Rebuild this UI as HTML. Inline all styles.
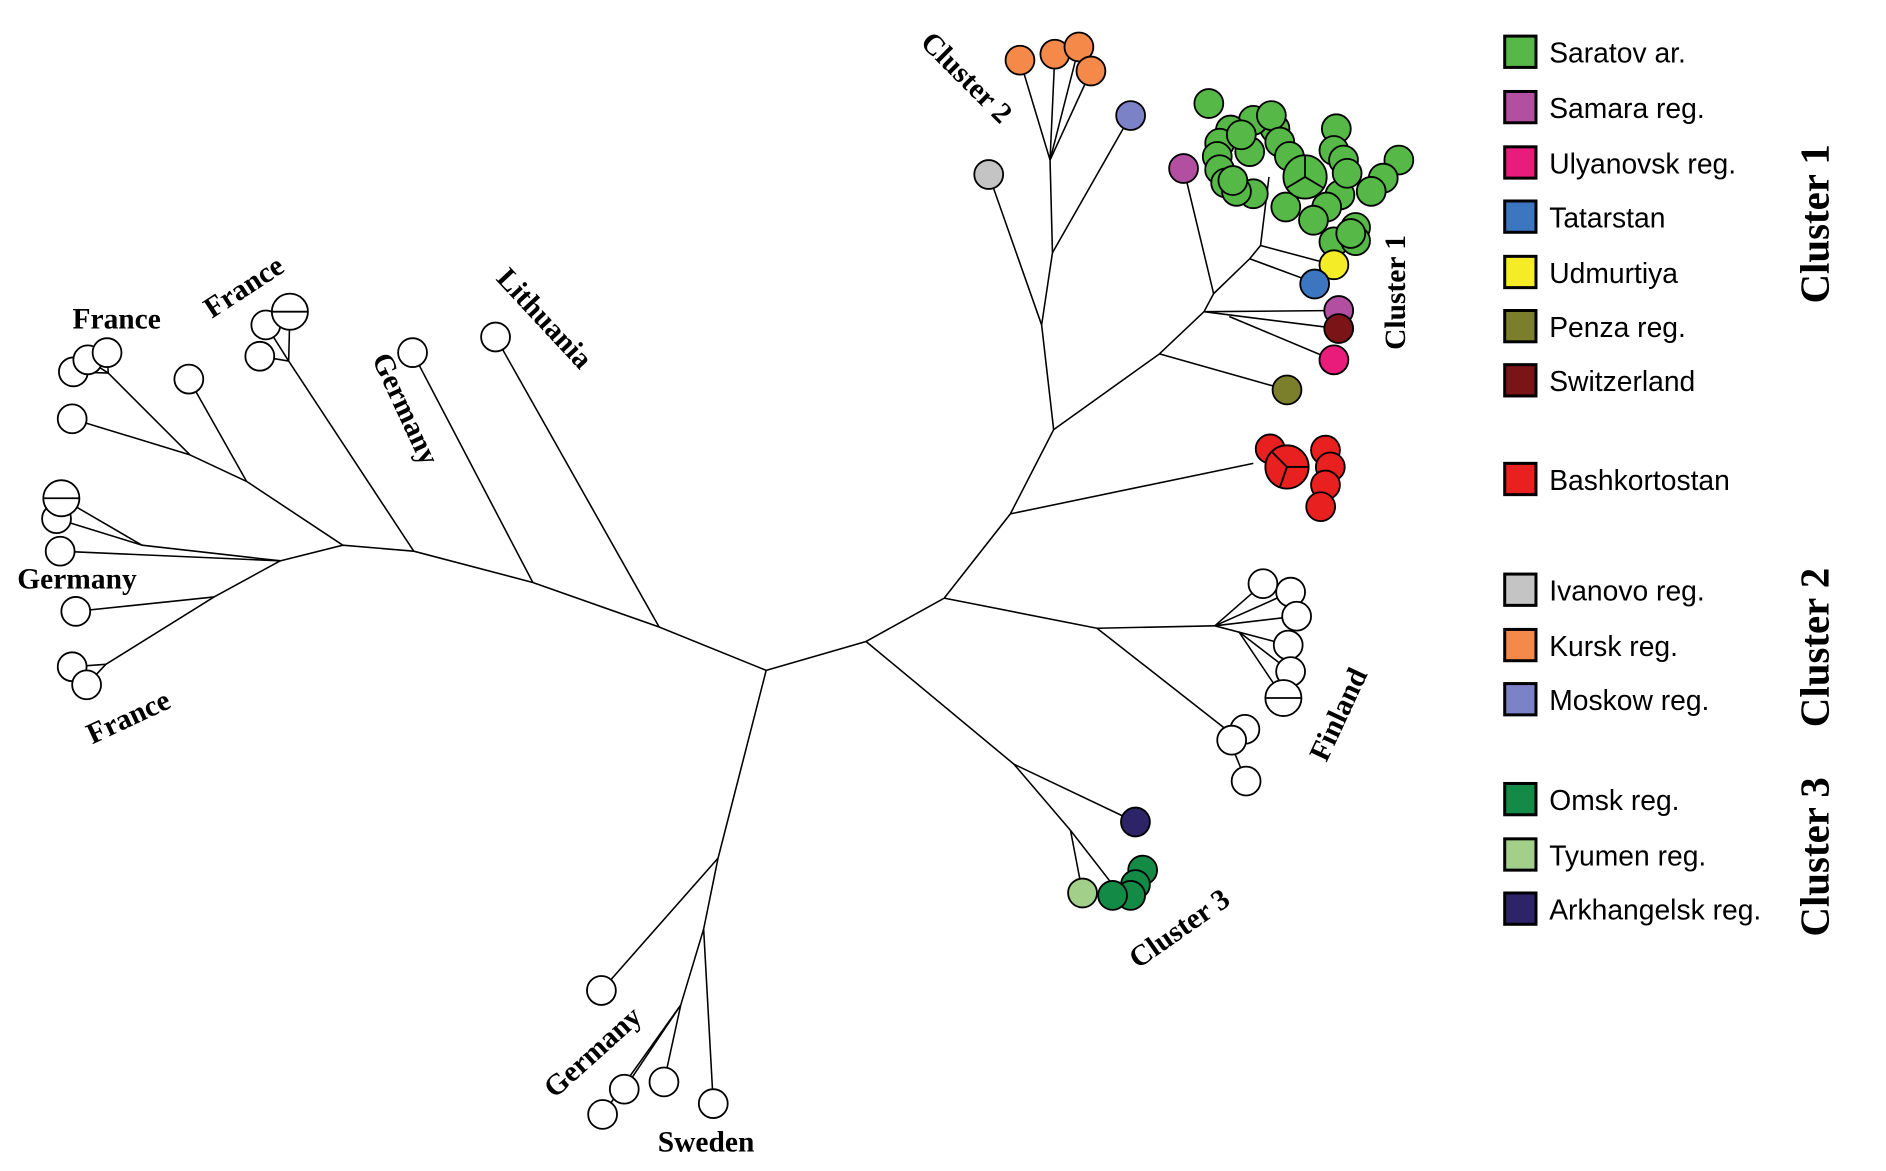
<!DOCTYPE html>
<html><head><meta charset="utf-8"><style>html,body{margin:0;padding:0;background:#fff}svg{display:block}</style></head>
<body>
<svg width="1886" height="1171" viewBox="0 0 1568 973" preserveAspectRatio="none" xmlns="http://www.w3.org/2000/svg">
<g stroke="#000" stroke-width="1.3" fill="none">
<polyline points="637,557 548,521 443,484 344,458 285,453 233,466"/>
<line x1="548" y1="521" x2="412" y2="280"/>
<line x1="443" y1="484" x2="343" y2="293"/>
<line x1="285" y1="453" x2="205" y2="400"/>
<line x1="344" y1="458" x2="240" y2="300"/>
<line x1="240" y1="300" x2="216" y2="296"/><line x1="240" y1="300" x2="221" y2="270"/><line x1="240" y1="300" x2="241" y2="259"/>
<line x1="205" y1="400" x2="157" y2="315"/>
<line x1="205" y1="400" x2="158" y2="378"/>
<line x1="158" y1="378" x2="90" y2="310"/>
<line x1="90" y1="310" x2="61" y2="309"/><line x1="90" y1="310" x2="73" y2="299"/><line x1="90" y1="310" x2="89" y2="293"/>
<line x1="158" y1="378" x2="60" y2="348"/>
<line x1="233" y1="466" x2="118" y2="453"/>
<line x1="118" y1="453" x2="51" y2="414"/><line x1="118" y1="453" x2="47" y2="431"/><line x1="233" y1="466" x2="50" y2="458"/>
<line x1="233" y1="466" x2="178" y2="496"/>
<line x1="178" y1="496" x2="63" y2="508"/>
<line x1="178" y1="496" x2="88" y2="552"/>
<line x1="88" y1="552" x2="60" y2="554"/><line x1="88" y1="552" x2="72" y2="569"/>
<polyline points="637,557 597,713 500,823"/>
<polyline points="597,713 585,772 566,835"/>
<line x1="566" y1="835" x2="519" y2="905"/><line x1="566" y1="835" x2="552" y2="899"/><line x1="566" y1="835" x2="501" y2="926"/>
<line x1="585" y1="772" x2="593" y2="917"/>
<polyline points="637,557 720,533 785,497 840,427 876,357 964,294"/>
<polyline points="720,533 843,635 890,690"/>
<line x1="843" y1="635" x2="944" y2="683"/>
<line x1="890" y1="690" x2="900" y2="742"/><line x1="890" y1="690" x2="925" y2="735"/>
<polyline points="785,497 912,522 1010,520"/>
<line x1="1010" y1="520" x2="1050" y2="485"/><line x1="1010" y1="520" x2="1073" y2="492"/><line x1="1010" y1="520" x2="1078" y2="512"/><line x1="1010" y1="520" x2="1071" y2="536"/><line x1="1030" y1="525" x2="1073" y2="558"/><line x1="1030" y1="525" x2="1067" y2="580"/>
<line x1="912" y1="522" x2="1018" y2="605"/>
<line x1="1018" y1="605" x2="1024" y2="615"/><line x1="1018" y1="605" x2="1035" y2="606"/><line x1="1018" y1="605" x2="1036" y2="649"/>
<line x1="840" y1="427" x2="1042" y2="385"/>
<line x1="964" y1="294" x2="1070" y2="324"/>
<polyline points="964,294 1001,259 1009,244 1039,215 1048,204 1055,147"/>
<line x1="1001" y1="259" x2="1112" y2="258"/><line x1="1001" y1="259" x2="1112" y2="273"/>
<line x1="1022" y1="263" x2="1108" y2="299"/>
<line x1="1009" y1="244" x2="984" y2="140"/>
<line x1="1039" y1="215" x2="1093" y2="235"/>
<line x1="1048" y1="204" x2="1108" y2="220"/>
<line x1="876" y1="357" x2="866" y2="270"/>
<polyline points="866,270 875,210 873,133"/>
<line x1="873" y1="133" x2="848" y2="50"/><line x1="873" y1="133" x2="877" y2="45"/><line x1="873" y1="133" x2="897" y2="39"/><line x1="873" y1="133" x2="907" y2="59"/>
<line x1="875" y1="210" x2="940" y2="96"/>
<line x1="866" y1="270" x2="822" y2="145"/>
</g>
<g stroke="#000" stroke-width="1.5">
<g fill="#fff">
<circle cx="412" cy="280" r="12"/><circle cx="343" cy="293" r="12"/>
<circle cx="216" cy="296" r="12"/><circle cx="221" cy="270" r="12"/><circle cx="241" cy="259" r="15"/>
<circle cx="157" cy="315" r="12"/><circle cx="61" cy="309" r="12"/><circle cx="73" cy="299" r="12"/><circle cx="89" cy="293" r="12"/><circle cx="60" cy="348" r="12"/>
<circle cx="47" cy="431" r="12"/><circle cx="51" cy="414" r="15"/><circle cx="50" cy="458" r="12"/><circle cx="63" cy="508" r="12"/><circle cx="60" cy="554" r="12"/><circle cx="72" cy="569" r="12"/>
<circle cx="500" cy="823" r="12"/><circle cx="519" cy="905" r="12"/><circle cx="552" cy="899" r="12"/><circle cx="501" cy="926" r="12"/><circle cx="593" cy="917" r="12"/>
<circle cx="1050" cy="485" r="12"/><circle cx="1073" cy="492" r="12"/><circle cx="1078" cy="512" r="12"/><circle cx="1071" cy="536" r="12"/><circle cx="1073" cy="558" r="12"/><circle cx="1067" cy="580" r="15"/>
<circle cx="1035" cy="606" r="12"/><circle cx="1024" cy="615" r="12"/><circle cx="1036" cy="649" r="12"/>
</g>
<line x1="226" y1="259" x2="256" y2="259"/><line x1="36" y1="414" x2="66" y2="414"/><line x1="1052" y1="580" x2="1082" y2="580"/>
<circle cx="822" cy="145" r="12" fill="#c4c4c4"/>
<circle cx="940" cy="96" r="12" fill="#7b82c6"/>
<g fill="#f4894a"><circle cx="848" cy="50" r="12"/><circle cx="877" cy="45" r="12"/><circle cx="897" cy="39" r="12"/><circle cx="907" cy="59" r="12"/></g>
<g fill="#56b947">
<circle cx="1005" cy="86" r="12"/><circle cx="1060" cy="107" r="12"/><circle cx="1042" cy="100" r="12"/><circle cx="1057" cy="96" r="12"/><circle cx="1064" cy="118" r="12"/><circle cx="1039" cy="126" r="12"/><circle cx="1023" cy="108" r="12"/><circle cx="1014" cy="119" r="12"/><circle cx="1012" cy="130" r="12"/><circle cx="1014" cy="141" r="12"/><circle cx="1019" cy="152" r="12"/><circle cx="1042" cy="161" r="12"/><circle cx="1028" cy="159" r="12"/>
<circle cx="1111" cy="107" r="12"/><circle cx="1109" cy="125" r="12"/><circle cx="1117" cy="133" r="12"/><circle cx="1163" cy="133" r="12"/><circle cx="1150" cy="148" r="12"/><circle cx="1140" cy="159" r="12"/><circle cx="1114" cy="162" r="12"/><circle cx="1120" cy="144" r="12"/><circle cx="1103" cy="172" r="12"/><circle cx="1069" cy="172" r="12"/><circle cx="1092" cy="183" r="12"/><circle cx="1127" cy="189" r="12"/><circle cx="1109" cy="201" r="12"/><circle cx="1127" cy="200" r="12"/>
<circle cx="1032" cy="112" r="12"/><circle cx="1025" cy="150" r="12"/><circle cx="1072" cy="130" r="12"/><circle cx="1123" cy="194" r="12"/>
<circle cx="1085" cy="147" r="18"/>
</g>
<line x1="1085" y1="147" x2="1085" y2="129"/><line x1="1085" y1="147" x2="1070" y2="156"/><line x1="1085" y1="147" x2="1100" y2="156"/>
<circle cx="984" cy="140" r="12" fill="#b24fa0"/>
<circle cx="1109" cy="220" r="12" fill="#f4ec26"/>
<circle cx="1093" cy="236" r="12" fill="#3c76c0"/>
<circle cx="1113" cy="258" r="12" fill="#b24fa0"/>
<circle cx="1113" cy="273" r="12" fill="#7a1416"/>
<circle cx="1109" cy="299" r="12" fill="#e91c7c"/>
<circle cx="1070" cy="324" r="12" fill="#7b7f2c"/>
<g fill="#e8201f">
<circle cx="1056" cy="373" r="12"/><circle cx="1102" cy="374" r="12"/><circle cx="1106" cy="388" r="12"/><circle cx="1102" cy="403" r="12"/><circle cx="1098" cy="421" r="12"/><circle cx="1070" cy="388" r="18"/>
</g>
<line x1="1070" y1="388" x2="1058" y2="376"/><line x1="1070" y1="388" x2="1088" y2="388"/><line x1="1070" y1="388" x2="1064" y2="405"/>
<circle cx="944" cy="683" r="12" fill="#2d2468"/>
<g fill="#138a46"><circle cx="950" cy="723" r="12"/><circle cx="944" cy="735" r="12"/><circle cx="940" cy="744" r="12"/><circle cx="925" cy="744" r="12"/></g>
<circle cx="900" cy="742" r="12" fill="#a2d08a"/>
</g>
<g font-family="Liberation Serif, serif" font-weight="bold" font-size="24.5" text-anchor="middle" fill="#000">
<text x="97" y="273">France</text>
<text transform="translate(207,245) rotate(-33)">France</text>
<text transform="translate(447,270) rotate(47)">Lithuania</text>
<text transform="translate(330,343) rotate(65)">Germany</text>
<text x="64" y="489">Germany</text>
<text transform="translate(110,603) rotate(-25)">France</text>
<text transform="translate(798,70) rotate(45)">Cluster 2</text>
<text transform="translate(1168,243) rotate(-90)">Cluster 1</text>
<text transform="translate(1120,597) rotate(-65)">Finland</text>
<text transform="translate(985,778) rotate(-35)">Cluster 3</text>
<text transform="translate(498,880) rotate(-42)">Germany</text>
<text x="587" y="957">Sweden</text>
</g>
<g stroke="#000" stroke-width="2.5">
<rect x="1251" y="30" width="26" height="26" fill="#56b947"/>
<rect x="1251" y="76" width="26" height="26" fill="#b24fa0"/>
<rect x="1251" y="122" width="26" height="26" fill="#e91c7c"/>
<rect x="1251" y="167" width="26" height="26" fill="#3c76c0"/>
<rect x="1251" y="213" width="26" height="26" fill="#f4ec26"/>
<rect x="1251" y="258" width="26" height="26" fill="#7b7f2c"/>
<rect x="1251" y="303" width="26" height="26" fill="#7a1416"/>
<rect x="1251" y="385" width="26" height="26" fill="#e8201f"/>
<rect x="1251" y="477" width="26" height="26" fill="#c4c4c4"/>
<rect x="1251" y="523" width="26" height="26" fill="#f4894a"/>
<rect x="1251" y="568" width="26" height="26" fill="#7b82c6"/>
<rect x="1251" y="651" width="26" height="26" fill="#138a46"/>
<rect x="1251" y="697" width="26" height="26" fill="#a2d08a"/>
<rect x="1251" y="742" width="26" height="26" fill="#2d2468"/>
</g>
<g font-family="Liberation Sans, sans-serif" font-size="23.5" fill="#000">
<text x="1288" y="52">Saratov ar.</text>
<text x="1288" y="98">Samara reg.</text>
<text x="1288" y="144">Ulyanovsk reg.</text>
<text x="1288" y="189">Tatarstan</text>
<text x="1288" y="235">Udmurtiya</text>
<text x="1288" y="280">Penza reg.</text>
<text x="1288" y="325">Switzerland</text>
<text x="1288" y="407">Bashkortostan</text>
<text x="1288" y="499">Ivanovo reg.</text>
<text x="1288" y="545">Kursk reg.</text>
<text x="1288" y="590">Moskow reg.</text>
<text x="1288" y="673">Omsk reg.</text>
<text x="1288" y="719">Tyumen reg.</text>
<text x="1288" y="764">Arkhangelsk reg.</text>
</g>
<g font-family="Liberation Serif, serif" font-weight="bold" font-size="34" text-anchor="middle" fill="#000">
<text transform="translate(1520,186) rotate(-90)">Cluster 1</text>
<text transform="translate(1520,538) rotate(-90)">Cluster 2</text>
<text transform="translate(1520,712) rotate(-90)">Cluster 3</text>
</g>
</svg>
</body></html>
